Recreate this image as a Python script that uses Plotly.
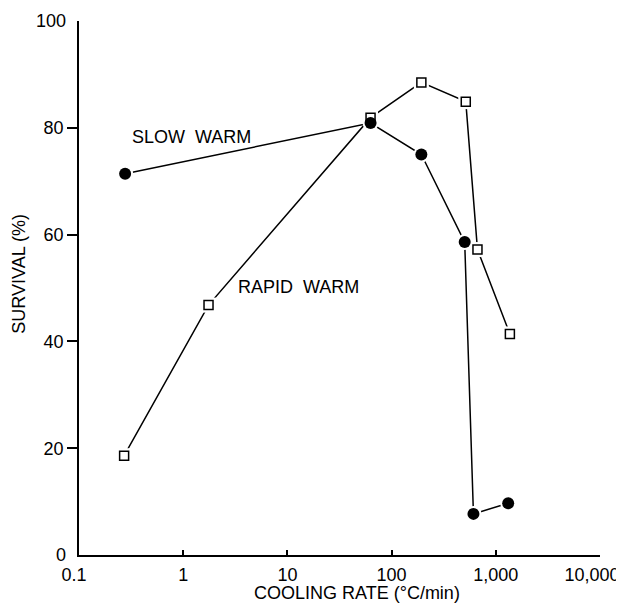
import plotly.graph_objects as go

# Data
slow_rate = [0.277, 62.8, 193, 503, 610, 1315]
slow_survival = [71.4, 80.9, 75.0, 58.6, 7.7, 9.7]

rapid_rate = [0.271, 1.75, 62.8, 193, 515, 667, 1365]
rapid_survival = [18.6, 46.8, 81.9, 88.5, 84.9, 57.2, 41.4]

x_tickvals = [0.1, 1, 10, 100, 1000]
x_ticktext = ["0.1&nbsp;&nbsp;", "1", "10", "100", "1,000"]
x_end_tickvals = [10000]
x_end_ticktext = ["10,000"]
y_tickvals_outside = [20, 40, 60, 80]
y_tickvals_inside = [0, 100]

FONT = "Liberation Sans, Arial, sans-serif"
BLACK = "#000000"

fig = go.Figure()

# connecting lines
fig.add_trace(go.Scatter(x=rapid_rate, y=rapid_survival, mode="lines",
                         line=dict(color=BLACK, width=1.5), showlegend=False, hoverinfo="skip"))
fig.add_trace(go.Scatter(x=slow_rate, y=slow_survival, mode="lines",
                         line=dict(color=BLACK, width=1.5), showlegend=False, hoverinfo="skip"))
# white halos so lines stop short of the markers
fig.add_trace(go.Scatter(x=rapid_rate, y=rapid_survival, mode="markers",
                         marker=dict(symbol="square", size=15, color="white", line=dict(width=0)),
                         showlegend=False, hoverinfo="skip"))
fig.add_trace(go.Scatter(x=slow_rate, y=slow_survival, mode="markers",
                         marker=dict(symbol="circle", size=16, color="white", line=dict(width=0)),
                         showlegend=False, hoverinfo="skip"))
# markers
fig.add_trace(go.Scatter(x=rapid_rate, y=rapid_survival, mode="markers", name="Rapid warm",
                         marker=dict(symbol="square", size=9, color="white",
                                     line=dict(color=BLACK, width=1.5)),
                         showlegend=False))
fig.add_trace(go.Scatter(x=slow_rate, y=slow_survival, mode="markers", name="Slow warm",
                         marker=dict(symbol="circle", size=12, color=BLACK,
                                     line=dict(color=BLACK, width=0)),
                         showlegend=False))

# the page body has an 8px default margin, so the figure is offset by (8, 8)
fig.update_layout(
    width=616, height=599,
    margin=dict(l=71, r=24, t=13, b=52, autoexpand=False),
    paper_bgcolor="white", plot_bgcolor="white",
    font=dict(family=FONT, size=18, color=BLACK),
    xaxis=dict(
        type="log", range=[-1, 4], automargin=False,
        tickvals=x_tickvals, ticktext=x_ticktext,
        ticks="inside", ticklen=5, tickwidth=1.5, tickcolor=BLACK,
        showline=True, linecolor=BLACK, linewidth=1.5,
        showgrid=False, zeroline=False,
        tickfont=dict(family=FONT, size=18, color=BLACK),
        ticklabelstandoff=3,
        ticklabeloverflow="allow",
    ),
    xaxis2=dict(
        type="log", range=[-1, 4], overlaying="x", matches="x", anchor="y", side="bottom",
        automargin=False,
        tickvals=x_end_tickvals, ticktext=x_end_ticktext,
        ticks="inside", ticklen=12, tickwidth=1.5, tickcolor=BLACK,
        showticklabels=True, showline=False, showgrid=False, zeroline=False,
        tickfont=dict(family=FONT, size=18, color=BLACK),
        ticklabelstandoff=7, ticklabelshift=-8,
        ticklabeloverflow="allow",
    ),
    yaxis=dict(
        range=[0, 100], automargin=False,
        tickvals=y_tickvals_outside,
        ticks="outside", ticklen=10, tickwidth=1.5, tickcolor=BLACK,
        showline=True, linecolor=BLACK, linewidth=1.5,
        showgrid=False, zeroline=False,
        tickfont=dict(family=FONT, size=18, color=BLACK),
    ),
    yaxis2=dict(
        range=[0, 100], overlaying="y", matches="y", anchor="x", side="left", automargin=False,
        tickvals=y_tickvals_inside,
        ticks="inside", ticklen=11, tickwidth=1.5, tickcolor=BLACK,
        showline=False, showgrid=False, zeroline=False,
        tickfont=dict(family=FONT, size=18, color=BLACK),
        ticklabelstandoff=12,
        ticklabeloverflow="allow",
    ),
    annotations=[
        dict(text="SLOW&nbsp;&nbsp;WARM", x=-0.51, y=78.2, xref="x", yref="y",
             xanchor="left", yanchor="middle", showarrow=False,
             font=dict(family=FONT, size=18, color=BLACK)),
        dict(text="RAPID&nbsp;&nbsp;WARM", x=0.51, y=50.2, xref="x", yref="y",
             xanchor="left", yanchor="middle", showarrow=False,
             font=dict(family=FONT, size=18, color=BLACK)),
        dict(text="COOLING RATE (°C/min)", x=0.534, y=-0.071, xref="paper", yref="paper",
             xanchor="center", yanchor="middle", showarrow=False,
             font=dict(family=FONT, size=18, color=BLACK)),
        dict(text="SURVIVAL (%)", x=-0.114, y=0.526, xref="paper", yref="paper",
             xanchor="center", yanchor="middle", showarrow=False, textangle=-90,
             font=dict(family=FONT, size=18, color=BLACK)),
    ],
)

# dummy trace binding the overlay axes so they render
fig.add_trace(go.Scatter(x=[None], y=[None], xaxis="x2", yaxis="y2",
                         showlegend=False, hoverinfo="skip"))

fig.write_html("out.html")
